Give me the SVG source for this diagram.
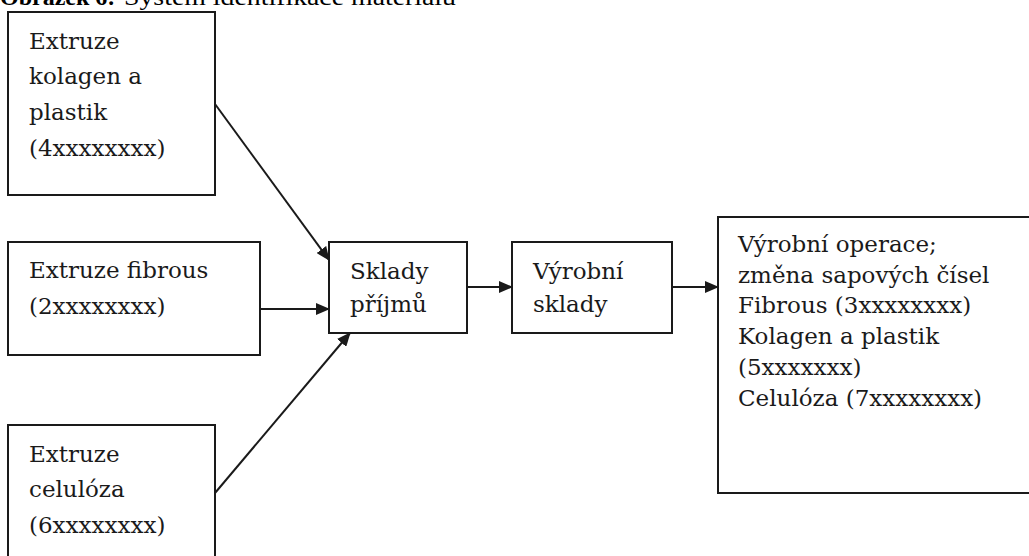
<svg xmlns="http://www.w3.org/2000/svg" width="1029" height="556" viewBox="0 0 1029 556">
<style>
.box{fill:#fff;stroke:#1a1a1a;stroke-width:2}
.t{font-family:"DejaVu Serif","Liberation Serif",serif;font-size:23px;fill:#1a1a1a}
.ttl{font-family:"Liberation Serif",serif;font-size:24px;fill:#000}
.c{stroke:#1a1a1a;stroke-width:2;fill:none;marker-end:url(#ah)}
</style>
<defs>
<marker id="ah" markerWidth="14" markerHeight="12" refX="13" refY="6" orient="auto" markerUnits="userSpaceOnUse">
<path d="M0,0 L14,6 L0,12 Z" fill="#1a1a1a"/>
</marker>
</defs>
<rect width="1029" height="556" fill="#fff"/>
<text class="ttl" x="0" y="5"><tspan font-weight="bold">Obrázek 6:</tspan><tspan x="124" textLength="332" lengthAdjust="spacingAndGlyphs">Systém identifikace materiálu</tspan></text>
<g id="n1"><rect class="box" x="8" y="12" width="207" height="183"/>
<text class="t" x="29" y="49">Extruze</text><text class="t" x="29" y="84">kolagen a</text><text class="t" x="29" y="120">plastik</text><text class="t" x="29" y="156">(4xxxxxxxx)</text></g>
<g id="n2"><rect class="box" x="8" y="242" width="252" height="113"/>
<text class="t" x="29" y="278">Extruze fibrous</text><text class="t" x="29" y="314">(2xxxxxxxx)</text></g>
<g id="n3"><rect class="box" x="8" y="425" width="207" height="140"/>
<text class="t" x="29" y="462">Extruze</text><text class="t" x="29" y="497">celulóza</text><text class="t" x="29" y="533">(6xxxxxxxx)</text></g>
<g id="n4"><rect class="box" x="329" y="242" width="138" height="91"/>
<text class="t" x="350" y="279">Sklady</text><text class="t" x="350" y="312">příjmů</text></g>
<g id="n5"><rect class="box" x="512" y="242" width="160" height="91"/>
<text class="t" x="533" y="279">Výrobní</text><text class="t" x="533" y="312">sklady</text></g>
<g id="n6"><rect class="box" x="718" y="217" width="320" height="276"/>
<text class="t" x="738" y="252">Výrobní operace;</text>
<text class="t" x="738" y="283">změna sapových čísel</text>
<text class="t" x="738" y="313">Fibrous (3xxxxxxxx)</text>
<text class="t" x="738" y="344">Kolagen a plastik</text>
<text class="t" x="738" y="375">(5xxxxxxx)</text>
<text class="t" x="738" y="406">Celulóza (7xxxxxxxx)</text></g>
<g id="connectors">
<line class="c" x1="215" y1="104" x2="329" y2="260"/>
<line class="c" x1="260" y1="309" x2="329" y2="309"/>
<line class="c" x1="215" y1="493" x2="350" y2="333"/>
<line class="c" x1="467" y1="287" x2="512" y2="287"/>
<line class="c" x1="672" y1="287" x2="718" y2="287"/>
</g>
</svg>
